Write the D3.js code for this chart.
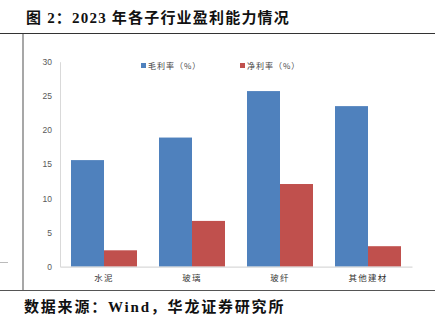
<!DOCTYPE html>
<html>
<head>
<meta charset="utf-8">
<script src="https://cdn.jsdelivr.net/npm/d3@7"></script>
<style>
  html, body { margin: 0; padding: 0; background: #fff; }
  svg { display: block; }
</style>
</head>
<body>
<script>
// 2023 profitability by sub-industry
const categories = ["水泥", "玻璃", "玻纤", "其他建材"];
const grossMargin = [15.6, 18.9, 25.7, 23.5];
const netMargin = [2.4, 6.7, 12.1, 3.0];
const seriesNames = ["毛利率（%）", "净利率（%）"];
const yTicks = [0, 5, 10, 15, 20, 25, 30];
const colors = ["#4F81BD", "#C0504D"];

const W = 447, H = 334;
const svg = d3.select("body").append("svg").attr("width", W).attr("height", H);

const cjk = "'Noto Sans CJK SC', 'Noto Sans', sans-serif";
const serifTitle = "'Liberation Serif', 'Noto Sans CJK SC', serif";

// Title and frame rules
svg.append("text")
  .attr("x", 26).attr("y", 23)
  .attr("font-family", serifTitle)
  .attr("font-weight", "bold")
  .attr("font-size", 15)
  .attr("letter-spacing", 1.2)
  .attr("fill", "#111")
  .text("图 2：2023 年各子行业盈利能力情况");

svg.append("line").attr("x1", 0).attr("x2", 435).attr("y1", 33.5).attr("y2", 33.5)
  .attr("stroke", "#333").attr("stroke-width", 1.2);
svg.append("line").attr("x1", 0).attr("x2", 435).attr("y1", 290.5).attr("y2", 290.5)
  .attr("stroke", "#555").attr("stroke-width", 1.2);
svg.append("line").attr("x1", 23).attr("x2", 23).attr("y1", 34).attr("y2", 290)
  .attr("stroke", "#8a8a8a").attr("stroke-width", 1.5);
svg.append("line").attr("x1", 0).attr("x2", 8).attr("y1", 262.5).attr("y2", 262.5)
  .attr("stroke", "#bbb").attr("stroke-width", 1);

svg.append("text")
  .attr("x", 24).attr("y", 312)
  .attr("font-family", serifTitle)
  .attr("font-weight", "bold")
  .attr("font-size", 15)
  .attr("letter-spacing", 1.8)
  .attr("fill", "#111")
  .text("数据来源：Wind，华龙证券研究所");

// Plot area
const plot = { left: 60, right: 412, top: 61.7, bottom: 266.7 };

const x0 = d3.scaleBand().domain(categories)
  .range([plot.left, plot.right]).paddingInner(0.25).paddingOuter(0.125);
const x1 = d3.scaleBand().domain([0, 1]).range([0, x0.bandwidth()]);
const y = d3.scaleLinear().domain([0, 30]).range([plot.bottom, plot.top]);

// Y axis
const yAxis = svg.append("g")
  .attr("transform", `translate(${plot.left},0)`)
  .call(d3.axisLeft(y).tickValues(yTicks).tickSize(0).tickPadding(8));
yAxis.select(".domain").attr("stroke", "#d9d9d9").attr("stroke-width", 1);
yAxis.selectAll("text")
  .attr("font-family", "'Liberation Sans', Arial, sans-serif")
  .attr("font-size", 8.5).attr("fill", "#595959");

// Bars
const data = categories.map((c, i) => ({ c, v: [grossMargin[i], netMargin[i]] }));
const groups = svg.append("g").selectAll("g").data(data).join("g")
  .attr("transform", d => `translate(${x0(d.c)},0)`);
groups.selectAll("rect").data(d => d.v.map((v, s) => ({ v, s }))).join("rect")
  .attr("x", d => x1(d.s))
  .attr("width", x1.bandwidth())
  .attr("y", d => y(d.v))
  .attr("height", d => y(0) - y(d.v))
  .attr("fill", d => colors[d.s]);

// X axis
const xAxis = svg.append("g")
  .attr("transform", `translate(0,${plot.bottom})`)
  .call(d3.axisBottom(x0).tickSize(0).tickPadding(8));
xAxis.select(".domain").attr("stroke", "#d9d9d9").attr("stroke-width", 1.2);
xAxis.selectAll("text")
  .attr("font-family", cjk)
  .attr("font-size", 8.5).attr("letter-spacing", 1.2).attr("fill", "#333");

// Legend
const legendX = [141, 240];
const legend = svg.append("g").selectAll("g").data(seriesNames).join("g")
  .attr("transform", (d, i) => `translate(${legendX[i]},65.5)`);
legend.append("rect").attr("x", 0).attr("y", -2.5).attr("width", 5).attr("height", 5)
  .attr("fill", (d, i) => colors[i]);
legend.append("text").attr("x", 7).attr("y", 3)
  .attr("font-family", cjk).attr("font-size", 8).attr("letter-spacing", 1).attr("fill", "#444")
  .text(d => d);
</script>
</body>
</html>
